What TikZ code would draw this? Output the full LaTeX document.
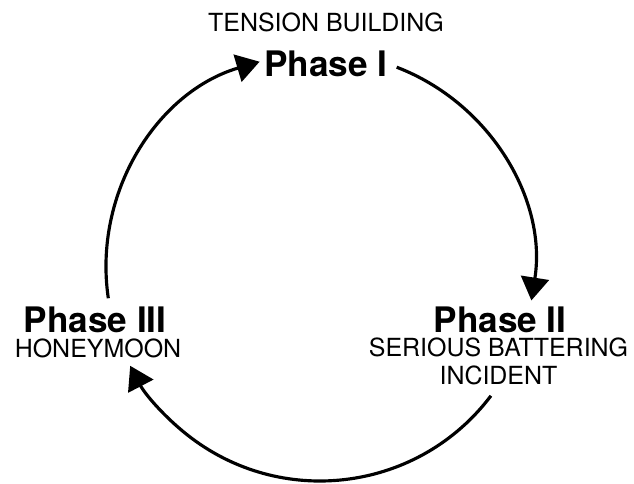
\documentclass[tikz,border=0pt]{standalone}
\usepackage{fontspec}
\setmainfont{TeX Gyre Heros}
\usetikzlibrary{arrows.meta,positioning}

\begin{document}
\begin{tikzpicture}[
    phase/.style={font=\bfseries\fontsize{20}{24}\selectfont, anchor=base, inner sep=0pt},
    sub/.style={font=\fontsize{14.2}{16}\selectfont, anchor=base, inner sep=0pt},
    cyc/.style={line width=1.8pt, -{Triangle[length=0.46cm,width=0.56cm]}}]
    \useasboundingbox (0,0) rectangle (12.68,9.68);

    \node[sub] (t1) at (6.52,9.04) {TENSION BUILDING};
    \node[phase] (p1) at (6.52,8.14) {Phase I};
    \node[phase] (p2) at (10.0,3.02) {Phase II};
    \node[sub] (t2) at (9.97,2.54) {SERIOUS BATTERING};
    \node[sub] (t2b) at (9.97,1.98) {INCIDENT};
    \node[phase] (p3) at (1.9,3.02) {Phase III};
    \node[sub] (t3) at (1.96,2.52) {HONEYMOON};

    % the cycle
    \coordinate (m) at (6.4,4.34);
    \path (m) ++(69:4.28) coordinate (a1);
    \path (m) ++(-37:4.28) coordinate (a2);
    \path (m) ++(188.4:4.28) coordinate (a3);

    \draw[cyc] (a1) arc[start angle=69, end angle=-9, radius=4.28];
    \draw[cyc] (a2) arc[start angle=-37, end angle=-152.5, radius=4.28];
    \draw[cyc] (a3) arc[start angle=188.4, end angle=106.4, radius=4.28];
\end{tikzpicture}
\end{document}
